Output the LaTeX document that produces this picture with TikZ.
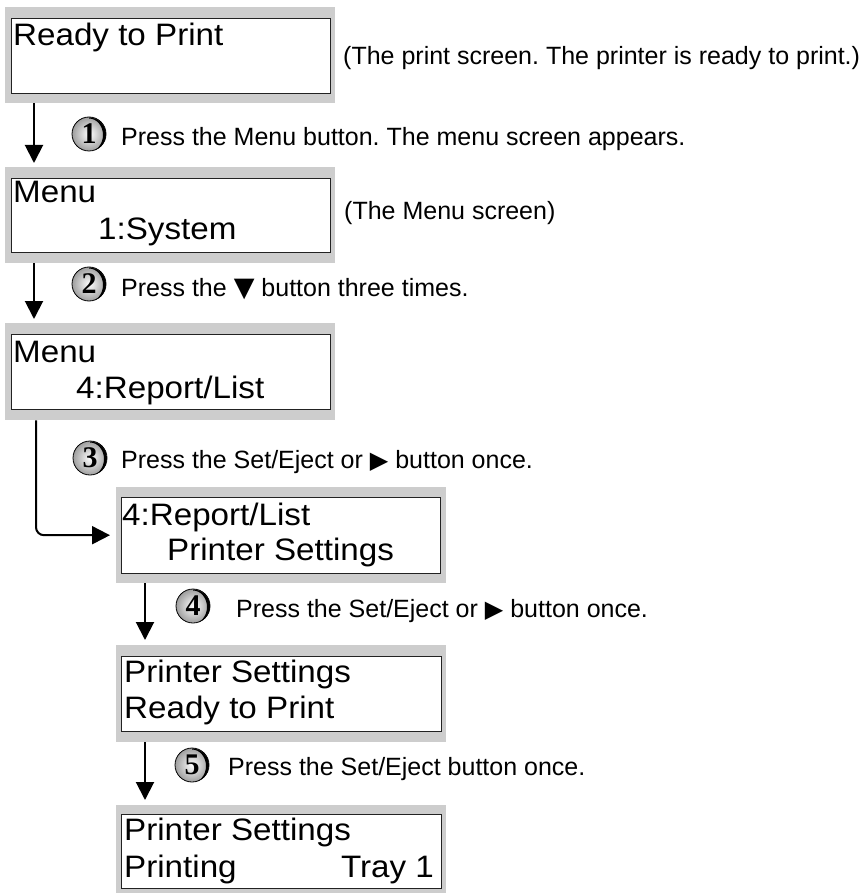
\documentclass[tikz,border=0pt]{standalone}
\usepackage{fontspec}
\setmainfont{Liberation Sans}
\frenchspacing
\newfontfamily\lcdfont[FakeStretch=1.07]{Liberation Sans}
\newfontfamily\capfont{Liberation Sans}
\newfontfamily\symfont{DejaVu Sans}
\newfontfamily\digfont{Liberation Serif}
\usetikzlibrary{arrows.meta,shadings}
\definecolor{framegray}{RGB}{205,205,205}
\definecolor{edgegray}{RGB}{34,34,34}
\tikzset{
  frame/.style={fill=framegray, draw=none, inner sep=0pt, anchor=north west},
  screen/.style={fill=white, draw=edgegray, line width=1.1pt, inner sep=0pt, anchor=north west},
  lcd/.style={font=\lcdfont\fontsize{31}{36}\selectfont, inner sep=0pt, anchor=base west},
  caption/.style={font=\capfont\fontsize{25}{30}\selectfont, inner sep=0pt, anchor=base west},
  stepball/.style={circle, minimum size=34pt, inner sep=0pt, shading=radial, inner color=white, outer color=black!38,
     draw=black, line width=0.8pt, font=\digfont\bfseries\fontsize{30}{30}\selectfont,
     path picture={\fill[black] ([yshift=-0.5pt]path picture bounding box.north)
        arc[start angle=90, end angle=-90, radius=17pt]
        arc[start angle=-90, end angle=90, x radius=14pt, y radius=16.5pt] -- cycle;}},
  conn/.style={line width=2pt, -{Triangle[width=18pt,length=18pt]}},
}
\newcommand{\dn}{{\symfont\fontsize{27}{20}\selectfont ▼}}
\newcommand{\rt}{{\symfont\fontsize{24}{20}\selectfont ▶}}
\begin{document}
\begin{tikzpicture}[x=1pt,y=-1pt]
\useasboundingbox (0,0) rectangle (865,893);
% frames
\node[frame, minimum width=330pt, minimum height=96pt] (f1) at (5,7) {};
\node[screen, minimum width=319pt, minimum height=75pt] (s1) at (11,18) {};
\node[frame, minimum width=330pt, minimum height=96pt] (f2) at (5,167) {};
\node[screen, minimum width=319pt, minimum height=74pt] (s2) at (11,178) {};
\node[frame, minimum width=330pt, minimum height=97pt] (f3) at (5,323) {};
\node[screen, minimum width=319pt, minimum height=75pt] (s3) at (11,334) {};
\node[frame, minimum width=330pt, minimum height=96pt] (f4) at (116,487) {};
\node[screen, minimum width=319pt, minimum height=76pt] (s4) at (121,497) {};
\node[frame, minimum width=330pt, minimum height=97pt] (f5) at (116,645) {};
\node[screen, minimum width=320pt, minimum height=75pt] (s5) at (121,656) {};
\node[frame, minimum width=330pt, minimum height=95pt] (f6) at (116,805) {};
\node[screen, minimum width=320pt, minimum height=74pt] (s6) at (121,814) {};
% screen texts
\node[lcd] (t1a) at (13,46) {Ready to Print};
\node[lcd] (t2a) at (13,203) {Menu};
\node[lcd] (t2b) at (98,240) {1:System};
\node[lcd] (t3a) at (13,362) {Menu};
\node[lcd] (t3b) at (76,398) {4:Report/List};
\node[lcd] (t4a) at (122,525) {4:Report/List};
\node[lcd] (t4b) at (167,560) {Printer Settings};
\node[lcd] (t5a) at (124,682) {Printer Settings};
\node[lcd] (t5b) at (124,718) {Ready to Print};
\node[lcd] (t6a) at (124,840) {Printer Settings};
\node[lcd] (t6b) at (124,877) {Printing};
\node[lcd, anchor=base east] (t6c) at (434,877) {Tray 1};
% notes
\node[caption] (p1) at (343,65) {(The print screen. The printer is ready to print.)};
\node[caption] (p2) at (344,220) {(The Menu screen)};
% steps
\node[stepball] (n1) at (89,134) {1};
\node[caption] (c1) at (121,146) {Press the Menu button. The menu screen appears.};
\node[stepball] (n2) at (89,284) {2};
\node[caption] (c2) at (121,296) {Press the \dn{} button three times.};
\node[stepball] (n3) at (90,458) {3};
\node[caption] (c3) at (121,468) {Press the Set/Eject or \rt{} button once.};
\node[stepball] (n4) at (193,606) {4};
\node[caption] (c4) at (236,617) {Press the Set/Eject or \rt{} button once.};
\node[stepball] (n5) at (192,765) {5};
\node[caption] (c5) at (228,775) {Press the Set/Eject button once.};
% connectors
\draw[conn] ([xshift=29pt]f1.south west) -- ([xshift=29pt,yshift=4pt]f2.north west);
\draw[conn] ([xshift=29pt]f2.south west) -- ([xshift=29pt,yshift=4pt]f3.north west);
\draw[conn, rounded corners=8pt] ([xshift=31pt]f3.south west) |- ([xshift=-6pt]f4.west);
\draw[conn] ([xshift=29pt]f4.south west) -- ([xshift=29pt,yshift=5pt]f5.north west);
\draw[conn] ([xshift=29pt]f5.south west) -- ([xshift=29pt,yshift=5pt]f6.north west);
\end{tikzpicture}
\end{document}
